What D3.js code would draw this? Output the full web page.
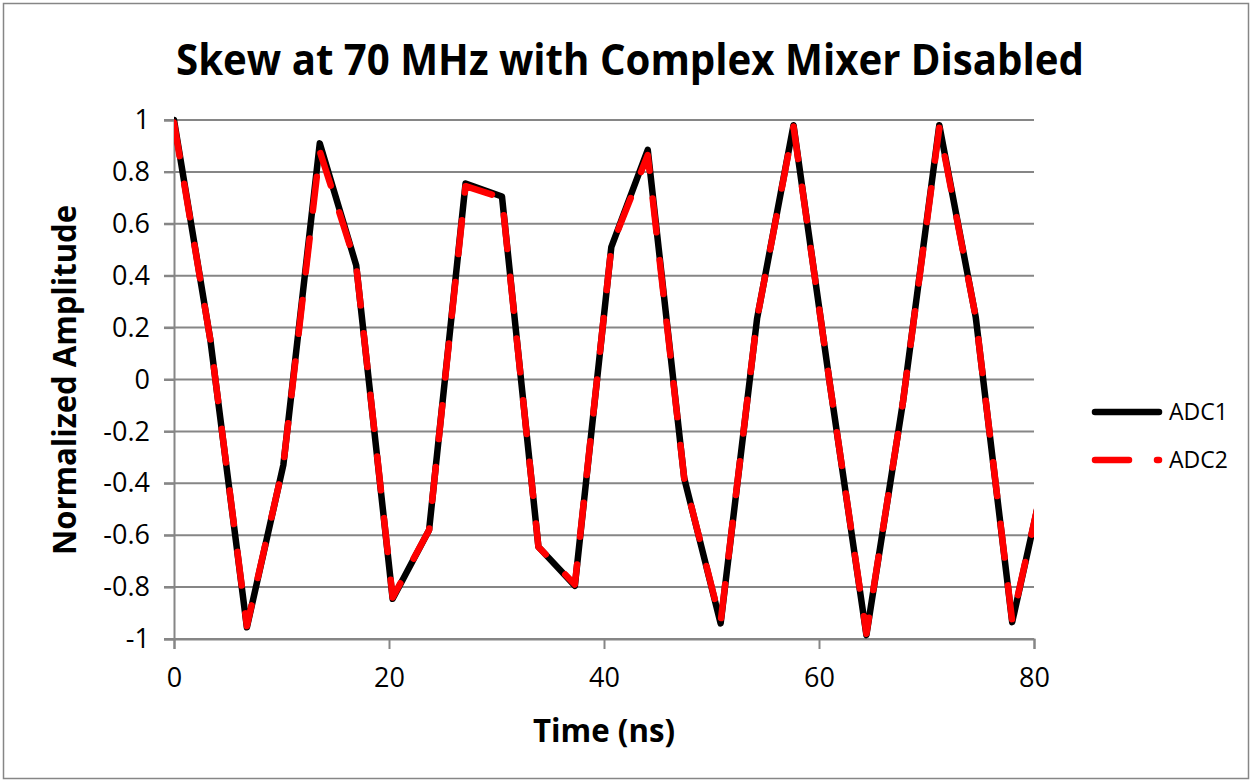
<!DOCTYPE html>
<html>
<head>
<meta charset="utf-8">
<script src="https://cdn.jsdelivr.net/npm/d3@7/dist/d3.min.js"></script>
<style>
	body { margin: 0; background: #fff; }
	text { font-family: "Open Sans", "DejaVu Sans", sans-serif; fill: #000; }
</style>
</head>
<body>
<script>

// sample times (ns)
var times = [0, 3.39, 6.78, 10.17, 13.56, 16.95, 20.34, 23.73, 27.12, 30.51, 33.9, 37.29,
	40.68, 44.07, 47.46, 50.85, 54.24, 57.63, 61.02, 64.41, 67.8, 71.19, 74.58, 77.97, 81.36];

// normalized amplitude, ADC1
var adc1 = [1.0, 0.15, -0.955, -0.33, 0.91, 0.44, -0.845, -0.58, 0.755, 0.705, -0.645, -0.795,
	0.51, 0.885, -0.38, -0.94, 0.235, 0.98, -0.02, -0.985, -0.09, 0.98, 0.24, -0.935, -0.30];

// normalized amplitude, ADC2
var adc2 = [0.99, 0.15, -0.95, -0.33, 0.88, 0.44, -0.84, -0.58, 0.745, 0.70, -0.645, -0.79,
	0.51, 0.865, -0.38, -0.935, 0.235, 0.975, -0.02, -0.98, -0.09, 0.97, 0.24, -0.93, -0.30];

var xTicks = [0, 20, 40, 60, 80];
var yTicks = [-1, -0.8, -0.6, -0.4, -0.2, 0, 0.2, 0.4, 0.6, 0.8, 1];

var seriesNames = ["ADC1", "ADC2"];

const width = 1252;
const height = 782;

var margins = { top: 120, left: 174, right: 218, bottom: 143 };
var plotWidth = width - margins.left - margins.right;
var plotHeight = height - margins.top - margins.bottom;

var gridColor = "#868686";

var svg = d3.select("body").append("svg")
	.attr("width", width)
	.attr("height", height);

// chart border
svg.append("rect")
	.attr("x", 3.5).attr("y", 3.5)
	.attr("width", width - 7).attr("height", height - 7)
	.attr("fill", "#fff")
	.attr("stroke", gridColor)
	.attr("stroke-width", 1.5);

// title
svg.append("text")
	.attr("x", 630).attr("y", 75)
	.attr("text-anchor", "middle")
	.attr("font-size", 43)
	.attr("font-weight", "bold")
	.attr("textLength", 908)
	.attr("lengthAdjust", "spacingAndGlyphs")
	.text("Skew at 70 MHz with Complex Mixer Disabled");

var plot = svg.append("g")
	.attr("transform", `translate(${margins.left},${margins.top})`);

var xScale = d3.scaleLinear().domain([0, 80]).range([0, plotWidth]);
var yScale = d3.scaleLinear().domain([-1, 1]).range([plotHeight, 0]);

// horizontal gridlines
plot.append("g")
	.selectAll("line")
	.data(yTicks)
	.enter().append("line")
	.attr("x1", -10).attr("x2", plotWidth)
	.attr("y1", d => yScale(d)).attr("y2", d => yScale(d))
	.attr("stroke", gridColor)
	.attr("stroke-width", 2);

// y axis
var yAxis = d3.axisLeft(yScale)
	.tickValues(yTicks)
	.tickSize(10)
	.tickPadding(14);
var yAxisGroup = plot.append("g").call(yAxis);
yAxisGroup.select(".domain").attr("stroke", gridColor).attr("stroke-width", 2);
yAxisGroup.selectAll(".tick line").attr("stroke", gridColor).attr("stroke-width", 2);
yAxisGroup.selectAll(".tick text")
	.attr("font-size", 27)
	.attr("font-family", "'Open Sans', sans-serif")
	.attr("fill", "#000")
	.text(d => (d < 0 ? "-" : "") + Math.abs(Math.round(d * 10) / 10));

// x axis
var xAxis = d3.axisBottom(xScale)
	.tickValues(xTicks)
	.tickSize(10)
	.tickPadding(19);
var xAxisGroup = plot.append("g")
	.attr("transform", `translate(0,${plotHeight})`)
	.call(xAxis);
xAxisGroup.select(".domain").attr("stroke", gridColor).attr("stroke-width", 2);
xAxisGroup.selectAll(".tick line").attr("stroke", gridColor).attr("stroke-width", 2);
xAxisGroup.selectAll(".tick text")
	.attr("font-size", 27)
	.attr("font-family", "'Open Sans', sans-serif")
	.attr("fill", "#000");

// axis titles
svg.append("text")
	.attr("x", 604).attr("y", 742)
	.attr("text-anchor", "middle")
	.attr("font-size", 32)
	.attr("font-weight", "bold")
	.attr("textLength", 142)
	.attr("lengthAdjust", "spacingAndGlyphs")
	.text("Time (ns)");

svg.append("text")
	.attr("transform", "translate(76,380) rotate(-90)")
	.attr("text-anchor", "middle")
	.attr("font-size", 32)
	.attr("font-weight", "bold")
	.attr("textLength", 350)
	.attr("lengthAdjust", "spacingAndGlyphs")
	.text("Normalized Amplitude");

// clip lines to plot width
svg.append("clipPath").attr("id", "plotClip")
	.append("rect")
	.attr("x", 0).attr("y", -20)
	.attr("width", plotWidth).attr("height", plotHeight + 40);

var line = d3.line()
	.x(d => xScale(d[0]))
	.y(d => yScale(d[1]));

var linesGroup = plot.append("g").attr("clip-path", "url(#plotClip)");

linesGroup.append("path")
	.datum(times.map((t, i) => [t, adc1[i]]))
	.attr("d", line)
	.attr("fill", "none")
	.attr("stroke", "#000")
	.attr("stroke-width", 6.5)
	.attr("stroke-linejoin", "round")
	.attr("stroke-linecap", "round");

linesGroup.append("path")
	.datum(times.map((t, i) => [t, adc2[i]]))
	.attr("d", line)
	.attr("fill", "none")
	.attr("stroke", "#ff0000")
	.attr("stroke-width", 6.5)
	.attr("stroke-linejoin", "round")
	.attr("stroke-linecap", "round")
	.attr("stroke-dasharray", "34,28");

// legend
var legend = svg.append("g").attr("transform", "translate(1095,412)");
var legendItems = legend.selectAll("g")
	.data(seriesNames)
	.enter().append("g")
	.attr("transform", (d, i) => `translate(0,${i * 48})`);

legendItems.append("line")
	.attr("x1", 0).attr("x2", 64)
	.attr("stroke", (d, i) => i === 0 ? "#000" : "#ff0000")
	.attr("stroke-width", 6.5)
	.attr("stroke-linecap", "round")
	.attr("stroke-dasharray", (d, i) => i === 0 ? null : "34,28");

legendItems.append("text")
	.attr("x", 74).attr("y", 8)
	.attr("font-size", 23)
	.text(d => d);

</script>
</body>
</html>
